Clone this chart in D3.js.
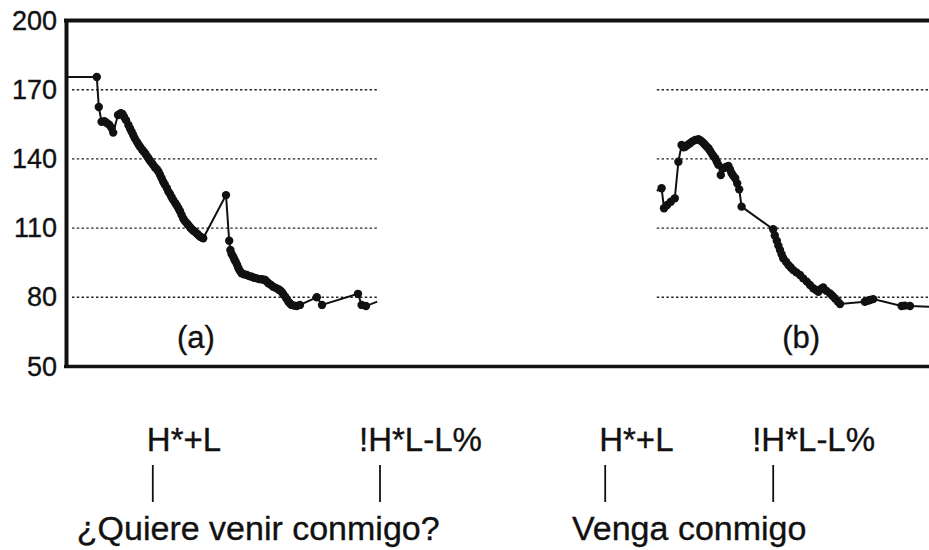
<!DOCTYPE html>
<html>
<head>
<meta charset="utf-8">
<script src="https://cdn.jsdelivr.net/npm/d3@7"></script>
<style>
  body { margin: 0; background: #fff; }
  text { font-family: "Liberation Sans", Arial, sans-serif; fill: #111; stroke: #111; stroke-width: 0.35px; }
</style>
</head>
<body>
<div id="chart"></div>
<script>
// F0 contours (time in ms, F0 in Hz)
var timeA = [0, 77, 82, 89, 96, 102, 108, 114, 118, 130, 137, 141, 145, 150, 156, 160, 164, 168, 172, 177, 181, 185, 190, 194, 198, 202, 206, 210, 214, 218, 222, 227, 231, 235, 239, 243, 247, 252, 256, 260, 264, 268, 273, 277, 281, 285, 289, 293, 297, 302, 306, 310, 314, 318, 322, 327, 331, 335, 339, 343,
  400, 408, 411, 414, 418, 421, 424, 428, 431, 435, 439, 445, 452, 458, 464, 470, 477, 483, 489, 494, 498, 502, 506, 512, 518, 524, 531, 535, 539, 543, 548, 552, 556, 560, 564, 570, 577, 585, 627, 640, 730, 739, 750, 778];
var f0A = [175.5, 175.5, 162.5, 156.1, 156.3, 155.6, 154.8, 153.4, 151.4, 159.0, 159.8, 159.5, 158.3, 156.8, 154.7, 153.2, 151.8, 150.4, 148.9, 147.5, 146.3, 145.3, 144.1, 143.2, 142.4, 141.3, 140.3, 139.2, 138.3, 137.4, 136.4, 135.5, 134.5, 133.1, 131.6, 130.1, 128.9, 127.4, 125.8, 124.8, 123.4, 122.2, 120.9, 119.8, 118.6, 117.3, 115.7, 114.2, 113.1, 112.1, 111.3, 110.4, 109.6, 109.0, 108.4, 107.7, 107.0, 106.3, 106.0, 105.6,
  124.3, 104.5, 100.5, 98.8, 97.6, 96.4, 95.4, 94.0, 92.6, 91.4, 90.4, 90.0, 89.7, 89.2, 88.9, 88.5, 88.2, 87.9, 87.8, 87.6, 87.5, 86.8, 86.1, 85.4, 84.6, 84.1, 83.5, 83.0, 82.4, 81.4, 80.3, 79.2, 78.1, 77.3, 76.7, 76.4, 76.2, 76.7, 80.0, 76.7, 81.5, 76.7, 76.2, 78.1];

var timeB = [1477, 1489, 1495, 1503, 1512, 1522, 1531, 1539, 1544, 1548, 1554, 1560, 1566, 1573, 1581, 1586, 1590, 1594, 1598, 1602, 1606, 1610, 1614, 1618, 1623, 1627, 1631, 1637, 1643, 1650, 1656, 1660, 1664, 1668, 1673, 1678, 1683, 1689,
  1768, 1772, 1777, 1781, 1785, 1789, 1793, 1800, 1806, 1812, 1818, 1826, 1835, 1843, 1852, 1860, 1868, 1875, 1881, 1887, 1893, 1901, 1910, 1916, 1922, 1929, 1935, 1997, 2004, 2010, 2018, 2089, 2097, 2110, 2158];
var f0B = [126.1, 127.3, 118.6, 120.0, 121.4, 122.9, 138.8, 146.0, 145.0, 145.3, 146.0, 146.8, 147.6, 148.2, 148.5, 148.0, 147.5, 146.8, 146.0, 145.3, 144.6, 143.5, 142.4, 141.4, 140.3, 138.8, 137.4, 133.0, 135.9, 136.5, 136.9, 135.4, 133.8, 132.7, 131.6, 129.4, 126.8, 119.3,
  109.5, 106.8, 104.5, 102.4, 100.5, 98.7, 96.9, 95.4, 94.0, 92.9, 91.8, 90.8, 89.7, 88.2, 86.8, 85.3, 83.9, 83.1, 82.4, 83.6, 84.3, 82.8, 81.7, 80.7, 79.6, 78.3, 77.1, 78.1, 78.5, 78.8, 79.2, 76.2, 76.4, 76.2, 75.9];

var yTicks = [50, 80, 110, 140, 170, 200];
var gridTicks = [80, 110, 140, 170];
var panelSpans = [[15, 778], [1477, 2160]];
var panelLabels = ["(a)", "(b)"];
var panelLabelTimes = [325, 1838];

var toneLabels = ["H*+L", "!H*L-L%", "H*+L", "!H*L-L%"];
var toneTimes = [217, 785, 1348, 1768];
var sentences = ["¿Quiere venir conmigo?", "Venga conmigo"];
var sentenceTimes = [27, 1265];

var width = 929, height = 550;

var svg = d3.select("#chart")
  .append("svg")
    .attr("width", width)
    .attr("height", height);

var x = d3.scaleLinear()
  .domain([0, 2160])
  .range([66, 930]);

var y = d3.scaleLinear()
  .domain([50, 200])
  .range([366.5, 20.5]);

// dotted grid, only over each panel
panelSpans.forEach(function(span) {
  svg.selectAll(null)
    .data(gridTicks)
    .enter()
    .append("line")
      .attr("x1", x(span[0]))
      .attr("x2", x(span[1]))
      .attr("y1", function(d) { return y(d); })
      .attr("y2", function(d) { return y(d); })
      .attr("stroke", "#222")
      .attr("stroke-width", 1.4)
      .attr("stroke-dasharray", "2.4,2.4");
});

// top and bottom frame lines
svg.append("line")
  .attr("x1", x(0) - 2).attr("x2", width)
  .attr("y1", y(200)).attr("y2", y(200))
  .attr("stroke", "#111").attr("stroke-width", 4);
svg.append("line")
  .attr("x1", x(0) - 2).attr("x2", width)
  .attr("y1", y(50)).attr("y2", y(50))
  .attr("stroke", "#111").attr("stroke-width", 3.5);

// Y axis
var yAxis = svg.append("g")
  .attr("transform", "translate(" + x(0) + ",0)")
  .call(d3.axisLeft(y).tickValues(yTicks).tickSize(0).tickPadding(9));
yAxis.select(".domain")
  .attr("stroke", "#111")
  .attr("stroke-width", 4);
yAxis.selectAll("text")
  .style("font-family", "'Liberation Sans', Arial, sans-serif")
  .style("font-size", "27px")
  .attr("fill", "#111");

// contours
var line = d3.line()
  .x(function(d) { return x(d[0]); })
  .y(function(d) { return y(d[1]); });

[[timeA, f0A], [timeB, f0B]].forEach(function(s) {
  var pts = d3.zip(s[0], s[1]);
  svg.append("path")
    .datum(pts)
    .attr("fill", "none")
    .attr("stroke", "#111")
    .attr("stroke-width", 2)
    .attr("d", line);
  // no markers on the loose ends
  svg.selectAll(null)
    .data(pts.slice(1, -1))
    .enter()
    .append("circle")
      .attr("cx", function(d) { return x(d[0]); })
      .attr("cy", function(d) { return y(d[1]); })
      .attr("r", 4.2)
      .attr("fill", "#111");
});

// panel letters
svg.selectAll(null)
  .data(panelLabels)
  .enter()
  .append("text")
    .attr("x", function(d, i) { return x(panelLabelTimes[i]); })
    .attr("y", 348)
    .attr("text-anchor", "middle")
    .style("font-size", "31px")
    .text(function(d) { return d; });

// tone labels with tick marks
var toneDx = [-6, -21, -6, -21];
svg.selectAll(null)
  .data(toneLabels)
  .enter()
  .append("text")
    .attr("x", function(d, i) { return x(toneTimes[i]) + toneDx[i]; })
    .attr("y", 451)
    .style("font-size", "33px")
    .text(function(d) { return d; });

svg.selectAll(null)
  .data(toneTimes)
  .enter()
  .append("line")
    .attr("x1", function(d) { return x(d); })
    .attr("x2", function(d) { return x(d); })
    .attr("y1", 465)
    .attr("y2", 502)
    .attr("stroke", "#111")
    .attr("stroke-width", 1.8);

// sentences
svg.selectAll(null)
  .data(sentences)
  .enter()
  .append("text")
    .attr("x", function(d, i) { return x(sentenceTimes[i]); })
    .attr("y", 540)
    .style("font-size", "34px")
    .text(function(d) { return d; });
</script>
</body>
</html>
